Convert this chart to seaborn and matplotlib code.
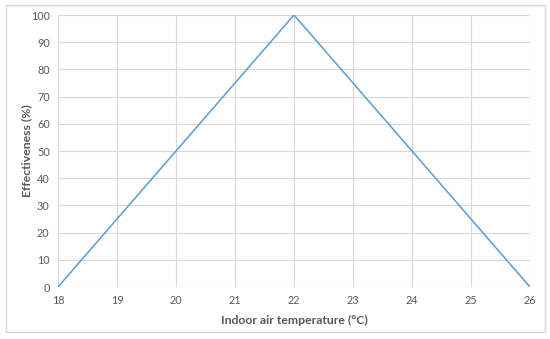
import matplotlib
matplotlib.use("Agg")
import matplotlib.pyplot as plt
import seaborn as sns
import pandas as pd
from matplotlib.patches import Rectangle

temperature = [18, 19, 20, 21, 22, 23, 24, 25, 26]
effectiveness = [0, 25, 50, 75, 100, 75, 50, 25, 0]
x_ticks = [18, 19, 20, 21, 22, 23, 24, 25, 26]
y_ticks = [0, 10, 20, 30, 40, 50, 60, 70, 80, 90, 100]

sns.set_theme(style="whitegrid")
plt.rcParams['font.family'] = ['Lato', 'DejaVu Sans']

df = pd.DataFrame({"temp": temperature, "eff": effectiveness})

fig = plt.figure(figsize=(5.5, 3.39), dpi=100)
fig.patch.set_facecolor("white")
fig.patches.append(Rectangle((6/550, 7/339), 539/550, 327/339, transform=fig.transFigure,
                             fill=False, edgecolor="#d9d9d9", linewidth=1.0, zorder=0))
ax = fig.add_axes([58/550, 52/339, 472/550, 272/339])

sns.lineplot(data=df, x="temp", y="eff", ax=ax, color="#5B9BD5", linewidth=1.1)

ax.set_xlim(18, 26)
ax.set_ylim(0, 100)
ax.set_xticks(x_ticks)
ax.set_yticks(y_ticks)
ax.grid(True, color="#d9d9d9", linewidth=0.8)
for s in ax.spines.values():
    s.set_visible(False)
ax.tick_params(axis="both", length=0, labelsize=7.8, labelcolor="#595959", pad=6)
ax.set_xlabel("Indoor air temperature (°C)", fontsize=8.8, fontweight="bold", color="#595959", labelpad=6)
ax.set_ylabel("Effectiveness (%)", fontsize=8.8, fontweight="bold", color="#595959", labelpad=-1)

fig.savefig("out.png", dpi=100)
